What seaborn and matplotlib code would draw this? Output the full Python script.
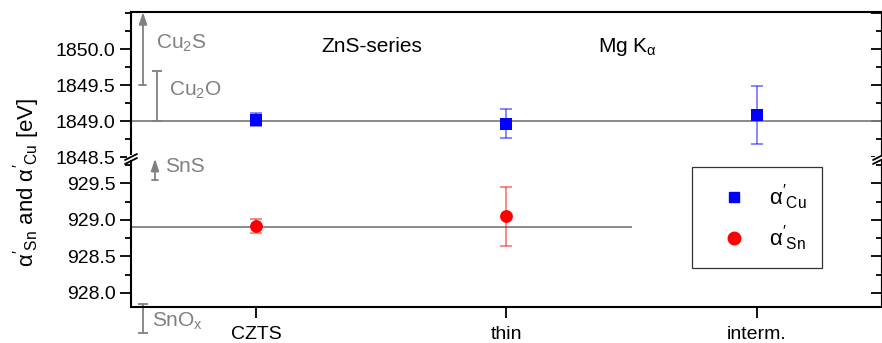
import numpy as np
import pandas as pd
import matplotlib
matplotlib.use("Agg")
import matplotlib.pyplot as plt
import seaborn as sns
from matplotlib.lines import Line2D
from matplotlib.patches import Rectangle

# ---- data ----
samples = ["CZTS", "thin", "interm."]
cu_vals = [1849.02, 1848.96, 1849.08]
cu_errs = [0.09, 0.20, 0.40]
sn_samples = ["CZTS", "thin"]
sn_vals = [928.92, 929.05]
sn_errs = [0.10, 0.40]
cu_ref = 1849.0
sn_ref = 928.91

sns.set_theme(style="ticks")
plt.rcParams["font.family"] = ["Liberation Sans", "DejaVu Sans"]
plt.rcParams["mathtext.default"] = "regular"
for k in ("text.color", "axes.labelcolor", "xtick.color", "ytick.color", "axes.edgecolor"):
    plt.rcParams[k] = "black"

W, H = 882, 343
fig = plt.figure(figsize=(W / 100, H / 100), dpi=100)

def fx(px):
    return px / W

def fy(py):
    return 1 - py / H

L, R = 131, 882
ax_top = fig.add_axes([fx(L), fy(157), fx(R - L), (157 - 12) / H])
ax_bot = fig.add_axes([fx(L), fy(307), fx(R - L), (307 - 157) / H])

gray = "#808080"
blue = "#0000FF"
red = "#FF0000"

x_cu = [samples.index(s) for s in samples]
x_sn = [samples.index(s) for s in sn_samples]

cu_df = pd.DataFrame({"x": x_cu, "y": cu_vals})
sn_df = pd.DataFrame({"x": x_sn, "y": sn_vals})

# reference lines
ax_top.axhline(cu_ref, color=gray, lw=1.3, zorder=1)
ax_bot.hlines(sn_ref, -0.5, 1.5, color=gray, lw=1.3, zorder=1)

# error bars
ax_top.errorbar(x_cu, cu_vals, yerr=cu_errs, fmt="none", ecolor=blue, alpha=0.55,
                elinewidth=1.2, capsize=4, capthick=1.2, zorder=2)
ax_bot.errorbar(x_sn, sn_vals, yerr=sn_errs, fmt="none", ecolor=red, alpha=0.55,
                elinewidth=1.2, capsize=4, capthick=1.2, zorder=2)

sns.scatterplot(data=cu_df, x="x", y="y", ax=ax_top, marker="s", s=70, color=blue,
                edgecolor=blue, linewidth=0, zorder=3, legend=False)
sns.scatterplot(data=sn_df, x="x", y="y", ax=ax_bot, marker="o", s=85, color=red,
                edgecolor=red, linewidth=0, zorder=3, legend=False)

ax_top.set_ylim(1848.5, 1850.514)
ax_bot.set_ylim(927.808, 929.863)
for ax in (ax_top, ax_bot):
    ax.set_xlim(-0.5, 2.5)
    ax.set_xlabel("")
    ax.set_ylabel("")
    for s in ax.spines.values():
        s.set_linewidth(1.5)
        s.set_color("black")
    ax.yaxis.set_major_locator(matplotlib.ticker.MultipleLocator(0.5))
    ax.yaxis.set_minor_locator(matplotlib.ticker.MultipleLocator(0.25))
    ax.yaxis.set_major_formatter(matplotlib.ticker.FormatStrFormatter("%.1f"))
    ax.tick_params(axis="y", which="major", direction="out", length=8, width=1.3,
                   labelsize=14, left=True, right=False, pad=3, colors="black")
    ax.tick_params(axis="y", which="minor", direction="out", length=4.5, width=1.3,
                   left=True, right=False, colors="black")
    # right-side inward ticks via secondary axis
    sec = ax.secondary_yaxis("right")
    sec.yaxis.set_major_locator(matplotlib.ticker.MultipleLocator(0.5))
    sec.yaxis.set_minor_locator(matplotlib.ticker.MultipleLocator(0.25))
    sec.tick_params(axis="y", which="major", direction="in", length=8, width=1.3,
                    labelright=False, colors="black")
    sec.tick_params(axis="y", which="minor", direction="in", length=4.5, width=1.3,
                    colors="black")
    sec.spines["right"].set_linewidth(1.5)
    sec.spines["right"].set_color("black")

ax_top.spines["bottom"].set_visible(False)
ax_bot.spines["top"].set_visible(False)
ax_top.tick_params(axis="x", which="both", bottom=False, top=False, labelbottom=False)
ax_top.set_yticks([1848.5, 1849.0, 1849.5, 1850.0])
ax_bot.set_yticks([928.0, 928.5, 929.0, 929.5])
ax_bot.set_xticks(range(len(samples)))
ax_bot.set_xticklabels(samples)
ax_bot.tick_params(axis="x", which="major", direction="out", length=8, width=1.3,
                   labelsize=14, top=False, pad=6, colors="black")

# y label
fig.text(fx(27), fy(182),
         r"$α'_{Sn}$ and $α'_{Cu}$ [eV]", rotation=90, ha="center", va="center",
         fontsize=16, color="black")

# header texts
ax_top.text(fx(321), fy(47), "ZnS-series", transform=fig.transFigure, fontsize=15,
            ha="left", va="center", color="black")
ax_top.text(fx(598), fy(47), r"Mg K$_α$", transform=fig.transFigure, fontsize=15,
            ha="left", va="center", color="black")

# gray annotations
def xd(px):
    return (px - L) / (R - L) * 3 - 0.5

ax_top.annotate("", xy=(xd(143), 1850.514), xytext=(xd(143), 1849.5),
                arrowprops=dict(arrowstyle="-|>,head_length=0.6,head_width=0.2",
                                color=gray, lw=1.3, shrinkA=0, shrinkB=0),
                annotation_clip=False)
ax_top.plot([xd(139.5), xd(146.5)], [1849.5, 1849.5], color=gray, lw=1.3, clip_on=False)
ax_top.errorbar([xd(157)], [1849.35], yerr=[[0.35], [0.35]], fmt="none", ecolor=gray,
                elinewidth=1.3, capsize=3.5, capthick=1.3)
ax_top.text(fx(156), fy(43), r"Cu$_2$S", transform=fig.transFigure, color=gray,
            fontsize=15, ha="left", va="center")
ax_top.text(fx(169), fy(90), r"Cu$_2$O", transform=fig.transFigure, color=gray,
            fontsize=15, ha="left", va="center")

ax_bot.annotate("", xy=(xd(155), 929.84), xytext=(xd(155), 929.55),
                arrowprops=dict(arrowstyle="-|>,head_length=0.6,head_width=0.2",
                                color=gray, lw=1.3, shrinkA=0, shrinkB=0),
                annotation_clip=False)
ax_bot.plot([xd(152), xd(158)], [929.55, 929.55], color=gray, lw=1.3, clip_on=False)
ax_bot.text(fx(165), fy(167), "SnS", transform=fig.transFigure, color=gray,
            fontsize=15, ha="left", va="center")
ax_bot.errorbar([xd(143)], [927.65], yerr=[[0.2], [0.2]], fmt="none", ecolor=gray,
                elinewidth=1.3, capsize=3.5, capthick=1.3, clip_on=False)
ax_bot.text(fx(152), fy(321), r"SnO$_x$", transform=fig.transFigure, color=gray,
            fontsize=15, ha="left", va="center")

# axis break marks
for xc in (131, 879):
    fig.patches.append(Rectangle((fx(xc - 4), fy(160)), fx(8), (160 - 155) / H,
                                 transform=fig.transFigure, facecolor="white",
                                 edgecolor="none", zorder=10))
    for dy in (0, 4):
        fig.lines.append(Line2D([fx(xc - 6), fx(xc + 6)],
                                [fy(162 - dy + 2), fy(156 - dy + 2)],
                                transform=fig.transFigure, color="black", lw=1.3,
                                zorder=11))

# legend
handles = [
    Line2D([], [], marker="s", color=blue, linestyle="none", markersize=7.5),
    Line2D([], [], marker="o", color=red, linestyle="none", markersize=9),
]
labels = [r"$α'_{Cu}$", r"$α'_{Sn}$"]
leg = fig.legend(handles, labels, loc="upper left",
                 bbox_to_anchor=(fx(692), fy(167)), bbox_transform=fig.transFigure,
                 frameon=True, fancybox=False, borderaxespad=0,
                 fontsize=16, labelspacing=0.5, handletextpad=0.4, borderpad=0.7,
                 handlelength=2.35)
leg.get_frame().set_edgecolor("black")
leg.get_frame().set_linewidth(0.9)
for t in leg.get_texts():
    t.set_color("black")

fig.savefig("out.png", dpi=100)
